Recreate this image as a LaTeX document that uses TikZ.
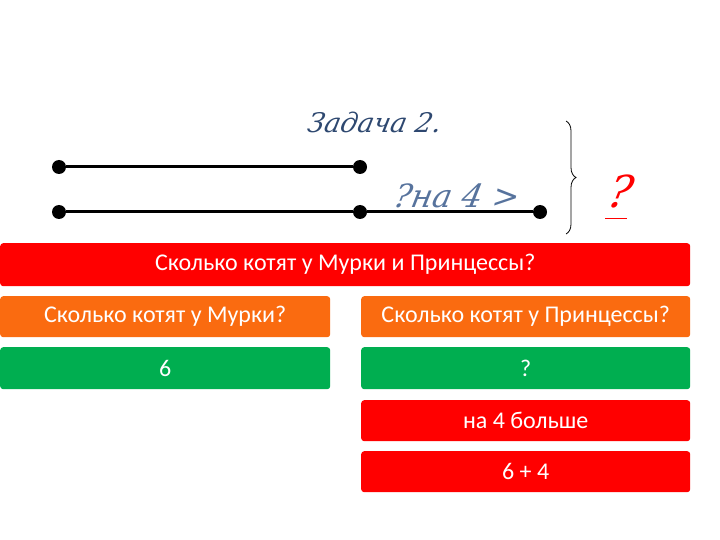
\documentclass[tikz,border=0pt]{standalone}
\usepackage{fontspec}
\setmainfont{Carlito}
\newfontfamily\handfont{DejaVu Serif}[FakeSlant=0.2]
\newfontfamily\qfont{Liberation Sans}
\usetikzlibrary{decorations.pathreplacing}
\definecolor{bxred}{HTML}{FF0000}
\definecolor{bxorange}{HTML}{FA6B10}
\definecolor{bxgreen}{HTML}{00AE50}
\definecolor{inkblue}{HTML}{3A5A8C}
\tikzset{
  box/.style={rectangle, rounded corners=3pt, text=white, inner sep=0pt, anchor=north west, font=\fontsize{24}{28}\selectfont},
  dot/.style={circle, fill=black, inner sep=0pt, minimum size=14pt},
  seg/.style={line width=3pt, black},
}
\begin{document}
\begin{tikzpicture}[x=1pt,y=-1pt]
\useasboundingbox (0,0) rectangle (720,540);
% boxes
\node[box, fill=bxred, minimum width=690pt, minimum height=43pt] (q) at (0,243) {Сколько котят у Мурки и Принцессы?};
\node[box, fill=bxorange, minimum width=330pt, minimum height=41pt] (qm) at (0,296) {Сколько котят у Мурки?};
\node[box, fill=bxorange, minimum width=329pt, minimum height=41pt] (qp) at (361,296) {Сколько котят у Принцессы?};
\node[box, fill=bxgreen, minimum width=330pt, minimum height=42pt] (am) at (0,347) {6};
\node[box, fill=bxgreen, minimum width=329pt, minimum height=42pt] (ap) at (361,347) {?};
\node[box, fill=bxred, minimum width=329pt, minimum height=41pt] (more) at (361,400) {на 4 больше};
\node[box, fill=bxred, minimum width=329pt, minimum height=41pt] (sum) at (361,451) {6 + 4};
% segments
\node[dot] (a1) at (59,167) {};
\node[dot] (a2) at (360,167) {};
\node[dot] (b1) at (59,212) {};
\node[dot] (b2) at (360,212) {};
\node[dot] (b3) at (540,212) {};
\draw[seg] (a1) -- (a2);
\draw[seg] (b1) -- (b2) -- (b3);
% handwriting
\node[text=inkblue!80!black, font=\handfont\itshape\fontsize{27}{30}\selectfont] (title) at (373,122) {Задача 2.};
\node[text=inkblue!85, font=\handfont\itshape\fontsize{32}{36}\selectfont] (diff) at (455,196) {?на 4 >};
% brace
\coordinate (bt) at (566,121);
\coordinate (bb) at (566,234);
\draw[line width=0.8pt, decorate, decoration={brace, amplitude=10pt}] (bt) -- (bb);
\node[text=bxred, font=\handfont\itshape\fontsize{44}{48}\selectfont] (ans) at (618,191) {?};
\coordinate (ul1) at (605,218);
\coordinate (ul2) at (627,218);
\draw[bxred, line width=0.6pt] (ul1) -- (ul2);
\end{tikzpicture}
\end{document}
